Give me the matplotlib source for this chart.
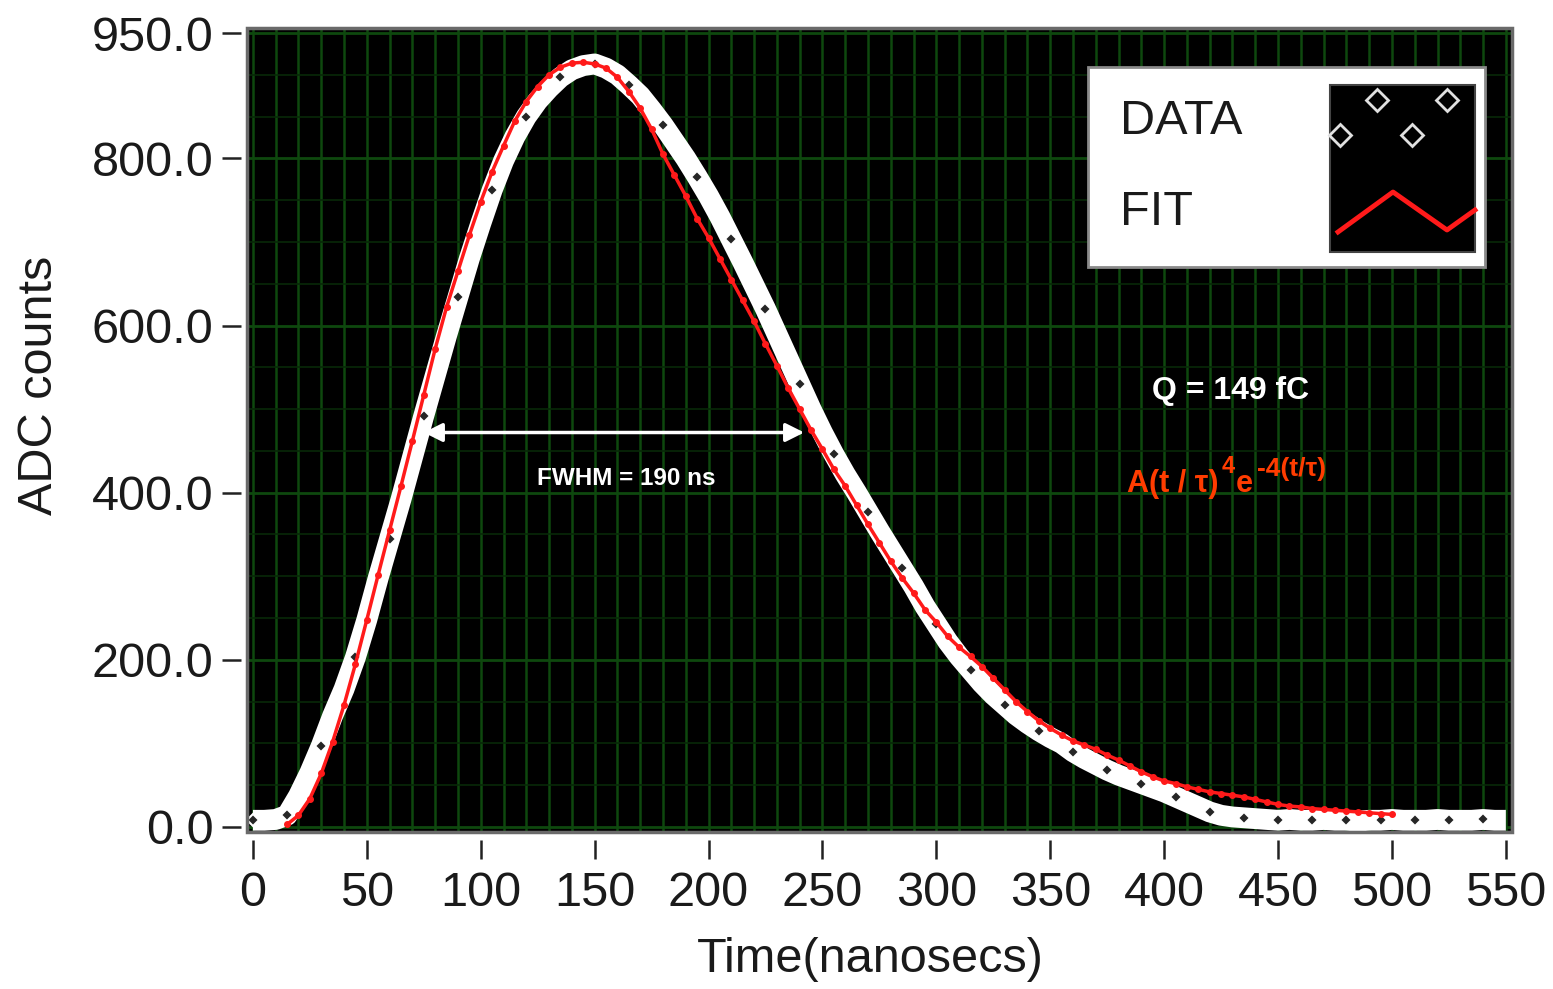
import numpy as np
import matplotlib
matplotlib.use("Agg")
import matplotlib.pyplot as plt
from matplotlib.patches import Rectangle
from matplotlib.ticker import MultipleLocator, FormatStrFormatter

plt.rcParams['font.family'] = ['Liberation Sans', 'DejaVu Sans']

t_data = np.arange(0, 555, 5)
adc_data = [8, 8, 9, 14, 37, 65, 97, 133, 165, 203,
            248, 298, 345, 392, 442, 492, 540, 588, 634, 680,
            722, 762, 797, 826, 850, 869, 884, 897, 906, 911,
            913, 908, 900, 888, 875, 858, 840, 820, 800, 778,
            755, 730, 703, 676, 648, 620, 590, 560, 530, 500,
            472, 446, 422, 400, 377, 354, 332, 310, 288, 264,
            243, 222, 204, 188, 172, 158, 146, 134, 124, 115,
            107, 100, 90, 82, 75, 68, 62, 57, 52, 47,
            42, 36, 30, 24, 18, 14, 12, 11, 10, 9,
            8, 9, 8, 8, 9, 8, 8, 7, 8, 8,
            9, 8, 8, 8, 9, 8, 8, 8, 9, 8, 8]

# fitted shaper response
t_fit = np.arange(15, 505, 5)
adc_fit = [3, 14, 34, 64, 102, 146, 195, 248, 302, 355,
           408, 462, 517, 572, 622, 665, 708, 748, 784, 815,
           845, 868, 886, 900, 909, 914, 915, 913, 908, 897,
           880, 860, 835, 805, 780, 755, 728, 705, 680, 655,
           630, 605, 578, 552, 525, 500, 475, 452, 428, 408,
           385, 362, 340, 318, 298, 280, 260, 245, 228, 215,
           204, 192, 178, 164, 150, 138, 127, 118, 110, 103,
           98, 93, 86, 80, 73, 66, 60, 55, 52, 48,
           45, 42, 40, 38, 36, 33, 30, 27, 25, 24,
           22, 21, 20, 19, 18, 17, 16, 15]

x_ticks = list(range(0, 551, 50))
y_ticks = [0, 200, 400, 600, 800, 950]
fwhm_lo, fwhm_hi, half_max = 75, 242, 472

W, H = 1553, 989


def px(x, y):
    # pixel position in the picture -> figure fraction
    return x / W, 1 - y / H


fig = plt.figure(figsize=(W / 100, H / 100), dpi=100)
fig.patch.set_facecolor('white')
ax = fig.add_axes([247 / W, 1 - 832 / H, (1512 - 247) / W, (832 - 28) / H])
ax.set_facecolor('black')
ax.set_xlim(-2.6, 552.7)
ax.set_ylim(-6, 956)

# green scope graticule
ax.set_axisbelow(True)
ax.xaxis.set_minor_locator(MultipleLocator(10))
ax.yaxis.set_minor_locator(MultipleLocator(50))
ax.grid(axis='x', which='both', color='#0e480e', lw=1.8)
ax.grid(axis='y', which='major', color='#0e480e', lw=2.0)
ax.grid(axis='y', which='minor', color='#082808', lw=1.2)

# data: thick white band of diamonds
ax.plot(t_data, adc_data, color='white', lw=15, solid_capstyle='butt', zorder=3)
ax.plot(t_data, adc_data, ls='none', marker='D', ms=6, mfc='#262626', mec='white',
        mew=1.5, markevery=3, zorder=4)
# fit: red
ax.plot(t_fit, adc_fit, color='#ff1a1a', lw=2.5, zorder=5)
ax.plot(t_fit, adc_fit, ls='none', marker='o', ms=4, color='#ff1a1a', zorder=5)

ax.set_xticks(x_ticks)
ax.set_yticks(y_ticks)
ax.yaxis.set_major_formatter(FormatStrFormatter('%.1f'))
for s in ['top', 'right']:
    ax.spines[s].set_visible(False)
ax.spines['left'].set_position(('outward', 4))
ax.spines['bottom'].set_position(('outward', 6))
ax.spines['left'].set_color('none')
ax.spines['bottom'].set_color('none')
ax.tick_params(which='major', length=14, width=1.8, color='#222222',
               labelsize=35, labelcolor='#1a1a1a')
ax.tick_params(axis='y', which='major', pad=6)
ax.tick_params(axis='x', which='major', pad=8)
ax.tick_params(which='minor', length=0)
ax.add_patch(Rectangle((0, 0), 1, 1, transform=ax.transAxes, fill=False,
                       ec='#6a6a6a', lw=2.5, clip_on=False, zorder=10))

fig.text(*px(870, 960), 'Time(nanosecs)', fontsize=35, ha='center',
         va='center', color='#1a1a1a')
fig.text(*px(40, 385), 'ADC counts', fontsize=35, ha='center',
         va='center', rotation=90, color='#1a1a1a')

# annotations
ax.annotate('', xy=(fwhm_lo, half_max), xytext=(fwhm_hi, half_max),
            arrowprops=dict(arrowstyle='<|-|>', color='white', lw=2.5,
                            mutation_scale=28, shrinkA=0, shrinkB=0), zorder=6)
ax.text(163.7, 409, 'FWHM = 190 ns', color='white', fontsize=17.5,
        fontweight='bold', ha='center', va='baseline', zorder=6)
ax.text(429, 512, 'Q = 149 fC', color='white', fontsize=23,
        fontweight='bold', ha='center', va='baseline', zorder=6)
red_txt = '#ff3c00'
fig.text(*px(1127, 492), 'A(t / \u03c4)', color=red_txt, fontsize=22,
         fontweight='bold', ha='left', va='baseline')
fig.text(*px(1222, 473), '4', color=red_txt, fontsize=17,
         fontweight='bold', ha='left', va='baseline')
fig.text(*px(1236, 492), 'e', color=red_txt, fontsize=22,
         fontweight='bold', ha='left', va='baseline')
fig.text(*px(1257, 476), '-4(t/\u03c4)', color=red_txt, fontsize=19,
         fontweight='bold', ha='left', va='baseline')

# legend box, drawn in its own pixel-like frame
lax = fig.add_axes([1088 / W, 1 - 267 / H, 397 / W, 200 / H])
lax.set_xlim(0, 397)
lax.set_ylim(200, 0)
lax.axis('off')
lax.add_patch(Rectangle((0, 0), 397, 200, fc='white', ec='#8a8a8a', lw=2, clip_on=False))
lax.add_patch(Rectangle((242, 18), 145, 167, fc='black', ec='#444444', lw=1.5))
lax.text(32, 55, 'DATA', fontsize=35, va='center', ha='left', color='#1a1a1a')
lax.text(32, 146, 'FIT', fontsize=35, va='center', ha='left', color='#1a1a1a')
leg_dx = [252, 289, 324, 359]
leg_dy = [68, 33, 68, 33]
lax.plot(leg_dx, leg_dy, ls='none', marker='D', ms=11, mfc='black', mec='#e0e0e0', mew=2)
leg_fx = [250, 305, 359, 387]
leg_fy = [165, 125, 163, 143]
lax.plot(leg_fx, leg_fy, color='#ff1a1a', lw=3.5)

fig.savefig('out.png', dpi=100, facecolor='white')
